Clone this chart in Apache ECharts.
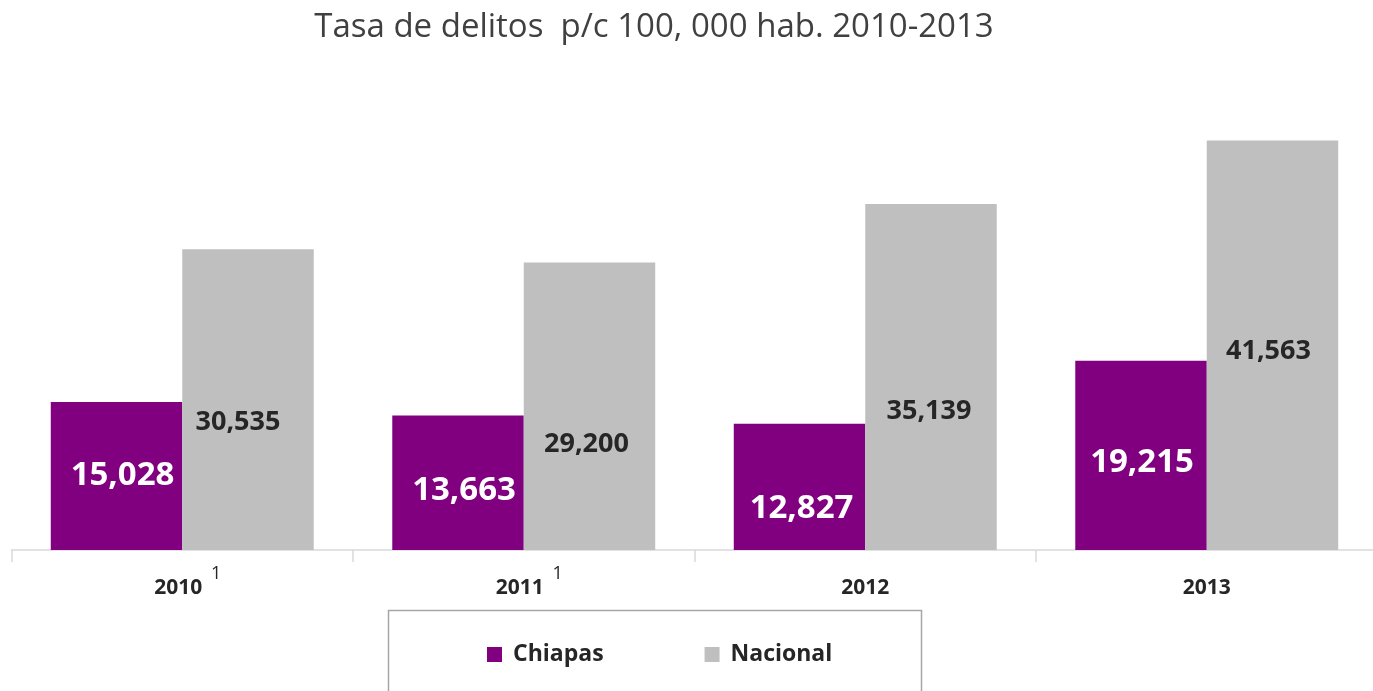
<!DOCTYPE html>
<html><head><meta charset="utf-8">
<script src="https://cdn.jsdelivr.net/npm/echarts@6/dist/echarts.min.js"></script>
<style>html,body{margin:0;padding:0;background:#fff}#c{width:1373px;height:691px}</style>
</head><body><div id="c"></div>
<script>
const categories = ['2010', '2011', '2012', '2013'];
const superscripts = ['1', '1', '', ''];
const chiapas = [15028, 13663, 12827, 19215];
const nacional = [30535, 29200, 35139, 41563];
const seriesNames = ['Chiapas', 'Nacional'];
const titleText = 'Tasa de delitos  p/c 100, 000 hab. 2010-2013';
// label offsets (style only)
const chiapasLabelOffsets = [[6, 0], [6, 8], [2, 22], [1, 7]];
const nacionalLabelOffsets = [[-10, 23], [-3, 38], [-2, 34], [-4, 6]];

const fmt = v => v.toLocaleString('en-US');
const FONT = 'Open Sans';

const chart = echarts.init(document.getElementById('c'), null, {renderer: 'canvas'});
chart.setOption({
  animation: false,
  backgroundColor: '#ffffff',
  title: {
    text: titleText, left: 649, top: 6, textAlign: 'center',
    textStyle: {fontFamily: FONT, fontSize: 33, fontWeight: 'normal', color: '#404040'}
  },
  grid: {left: 11.5, width: 1366, top: 57.5, bottom: 141, containLabel: false, outerBoundsMode: 'none'},
  legend: {
    data: seriesNames, left: 482, top: 638, itemWidth: 15, itemHeight: 15, itemGap: 101,
    icon: 'rect',
    textStyle: {fontFamily: FONT, fontSize: 23, fontWeight: 'bold', color: '#262626', padding: [0, 0, 0, 6]}
  },
  graphic: [{
    type: 'rect', shape: {x: 388.5, y: 610.5, width: 533, height: 100},
    style: {fill: 'none', stroke: '#a6a6a6', lineWidth: 1.5}, silent: true
  }],
  xAxis: [{
    type: 'category', data: categories, position: 'bottom',
    axisLine: {lineStyle: {color: '#d9d9d9', width: 1.5}},
    axisTick: {show: true, length: 12, lineStyle: {color: '#d9d9d9', width: 1.5}},
    axisLabel: {
      margin: 22, interval: 0,
      formatter: (v, i) => superscripts[i] ? '{y2|' + v + '}' : '{y|' + v + '}',
      rich: {
        y: {fontFamily: FONT, fontSize: 21, fontWeight: 'bold', color: '#262626', lineHeight: 32},
        y2: {fontFamily: FONT, fontSize: 21, fontWeight: 'bold', color: '#262626', lineHeight: 32, padding: [0, 0, 0, -8]}
      }
    }
  }, {
    type: 'category', data: categories, position: 'bottom', offset: 0,
    axisLine: {show: false}, axisTick: {show: false}, splitLine: {show: false},
    axisLabel: {
      margin: 15, interval: 0,
      formatter: (v, i) => superscripts[i] ? '{s|' + superscripts[i] + '}' : '',
      rich: {
        s: {fontFamily: FONT, fontSize: 18, color: '#262626', padding: [0, 0, 0, 68]}
      }
    }
  }],
  yAxis: {
    type: 'value', min: 0, max: 50000, show: false, splitLine: {show: false}
  },
  series: [
    {
      name: seriesNames[0], type: 'bar', barGap: '0%', barCategoryGap: '23%',
      itemStyle: {color: '#800080'},
      data: chiapas.map((v, i) => ({value: v, label: {offset: chiapasLabelOffsets[i]}})),
      label: {show: true, position: 'inside', formatter: p => fmt(p.value),
        fontFamily: FONT, fontSize: 33, fontWeight: 'bold', color: '#ffffff'}
    },
    {
      name: seriesNames[1], type: 'bar', barGap: '0%', barCategoryGap: '23%',
      itemStyle: {color: '#bfbfbf'},
      data: nacional.map((v, i) => ({value: v, label: {offset: nacionalLabelOffsets[i]}})),
      label: {show: true, position: 'inside', formatter: p => fmt(p.value),
        fontFamily: FONT, fontSize: 27, fontWeight: 'bold', color: '#262626'}
    }
  ]
});
</script></body></html>
